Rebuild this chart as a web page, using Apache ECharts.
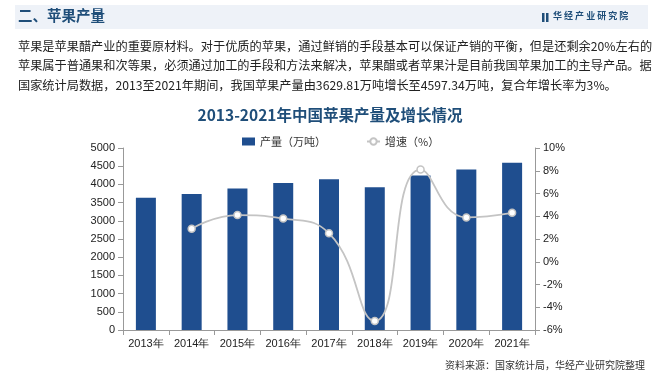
<!DOCTYPE html>
<html><head><meta charset="utf-8">
<script src="https://cdn.jsdelivr.net/npm/echarts@6/dist/echarts.min.js"></script>
<style>html,body{margin:0;padding:0;background:#fff}#c{width:660px;height:374px}</style>
</head><body><div id="c"></div>
<script>
var categories = ['2013年','2014年','2015年','2016年','2017年','2018年','2019年','2020年','2021年'];
var production = [3629.81, 3735.4, 3889.9, 4039.3, 4139.0, 3923.3, 4242.5, 4406.6, 4597.34];
var growth = [null, 2.9, 4.1, 3.8, 2.5, -5.2, 8.1, 3.9, 4.3];
var titleText = '2013-2021年中国苹果产量及增长情况';
var headerText = '二、苹果产量';
var paraLines = [
 '苹果是苹果醋产业的重要原材料。对于优质的苹果，通过鲜销的手段基本可以保证产销的平衡，但是还剩余20%左右的',
 '苹果属于普通果和次等果，必须通过加工的手段和方法来解决，苹果醋或者苹果汁是目前我国苹果加工的主导产品。据',
 '国家统计局数据，2013至2021年期间，我国苹果产量由3629.81万吨增长至4597.34万吨，复合年增长率为3%。'
];
var sourceText = '资料来源：国家统计局，华经产业研究院整理';

var cjk = '"Noto Sans CJK SC", "Liberation Sans", sans-serif';
var chart = echarts.init(document.getElementById('c'));
var graphics = [
  {type:'rect', shape:{x:15,y:5,width:633,height:24}, style:{fill:'#eef2f8'}},
  {type:'text', left:18, top:8, style:{text:headerText, font:'bold 14.5px '+cjk, fill:'#1f4e79'}},
  {type:'rect', shape:{x:542,y:13,width:2.5,height:9}, style:{fill:'#1f4e79'}},
  {type:'rect', shape:{x:546,y:13,width:2.5,height:9}, style:{fill:'#1f4e79'}},
  {type:'text', left:553, top:11, style:{text:'华 经 产 业 研 究 院', font:'bold 9px '+cjk, fill:'#1f4e79'}},
  {type:'text', right:15, bottom:4, style:{text:sourceText, font:'10px '+cjk, fill:'#333'}}
];
paraLines.forEach(function(t,i){
  graphics.push({type:'text', left:18, top:40+i*19.5, style:{text:t, font:'12.2px '+cjk, fill:'#222'}});
});
chart.setOption({
  animation:false,
  textStyle:{fontFamily:'"Liberation Sans", Arial, sans-serif'},
  graphic: graphics,
  title:{text:titleText, left:'center', top:102, textStyle:{fontSize:15.5, fontWeight:'bold', color:'#1f4e79', fontFamily:cjk}},
  legend:{top:131, left:237, itemGap:40, itemWidth:13, itemHeight:8,
    textStyle:{fontSize:11, color:'#333', fontFamily:cjk},
    data:[{name:'产量（万吨）', icon:'rect'}, {name:'增速（%）'}]},
  grid:{left:123, right:125, top:148, bottom:44},
  xAxis:{type:'category', data:categories,
    axisLine:{lineStyle:{color:'#999'}}, axisTick:{show:true, lineStyle:{color:'#999'}},
    axisLabel:{color:'#222', fontSize:11, margin:8, interval:0}},
  yAxis:[
    {type:'value', min:0, max:5000, interval:500, splitLine:{show:false},
     axisLine:{show:true, lineStyle:{color:'#999'}}, axisTick:{show:true, lineStyle:{color:'#999'}},
     axisLabel:{color:'#222', fontSize:11, formatter:function(v){return String(v);}}},
    {type:'value', min:-6, max:10, interval:2, splitLine:{show:false},
     axisLine:{show:true, lineStyle:{color:'#999'}}, axisTick:{show:true, lineStyle:{color:'#999'}},
     axisLabel:{color:'#222', fontSize:11, formatter:'{value}%'}}
  ],
  series:[
    {name:'产量（万吨）', type:'bar', data:production, barWidth:20, itemStyle:{color:'#1f4e8f'}},
    {name:'增速（%）', type:'line', yAxisIndex:1, data:growth, smooth:true, symbol:'circle', symbolSize:7,
     lineStyle:{color:'#c4c4c4', width:1.8}, itemStyle:{color:'#fff', borderColor:'#c4c4c4', borderWidth:1.5}}
  ]
});
</script></body></html>
